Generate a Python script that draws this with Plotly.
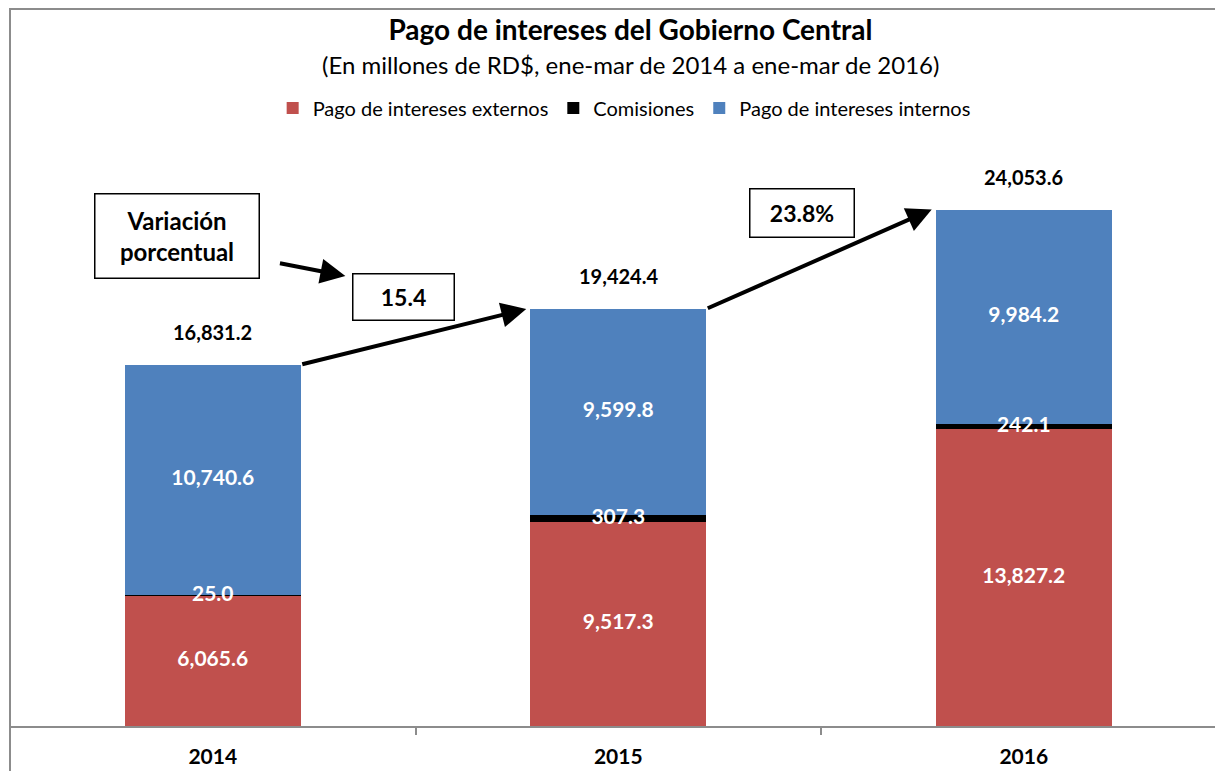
import plotly.graph_objects as go

years = ["2014", "2015", "2016"]
externos = [6065.6, 9517.3, 13827.2]
comisiones = [25.0, 307.3, 242.1]
internos = [10740.6, 9599.8, 9984.2]
totales = [16831.2, 19424.4, 24053.6]
variacion = ["15.4", "23.8%"]

FONT = "Lato"
RED = "#C0504D"
BLUE = "#4F81BD"
GRAY = "#8c8c8c"
BAR_W = 0.434


def fmt(v):
    return "{:,.1f}".format(v)


fig = go.Figure()

series = [
    ("Pago de intereses externos", externos, RED),
    ("Comisiones", comisiones, "black"),
    ("Pago de intereses internos", internos, BLUE),
]
for name, vals, color in series:
    fig.add_trace(go.Bar(
        x=years, y=vals, name=name,
        marker=dict(color=color, line=dict(width=0)),
        width=BAR_W,
        hoverinfo="skip",
    ))

# segment labels, white, centred on each segment
base = [0.0, 0.0, 0.0]
lab_x, lab_y, lab_t = [], [], []
for name, vals, color in series:
    for i, v in enumerate(vals):
        lab_x.append(years[i])
        lab_y.append(base[i] + v / 2)
        lab_t.append(fmt(v))
        base[i] += v

fig.add_trace(go.Scatter(
    x=lab_x, y=lab_y, text=lab_t, mode="text",
    textfont=dict(family=FONT, size=21, color="white", weight="bold"),
    showlegend=False, hoverinfo="skip",
))

annotations = []

# totals above the bars
for i, t in enumerate(totales):
    annotations.append(dict(
        x=i, y=t, xref="x", yref="y", text="<b>%s</b>" % fmt(t),
        showarrow=False, yanchor="bottom", yshift=19,
        font=dict(family=FONT, size=20, color="black"),
    ))

# arrows between the bar tops
for i in range(len(years) - 1):
    annotations.append(dict(
        x=i + 1 - BAR_W / 2 - 0.01, y=totales[i + 1],
        ax=i + BAR_W / 2, ay=totales[i],
        xref="x", yref="y", axref="x", ayref="y",
        text="", showarrow=True, arrowhead=2, arrowsize=1.25,
        arrowwidth=4, arrowcolor="black",
    ))

# variation boxes
box_pos = [(0.470, 19981, 92, 37), (1.452, 23894, 95, 39)]
for txt, (bx, by, bw, bh) in zip(variacion, box_pos):
    annotations.append(dict(
        x=bx, y=by, text="<b>%s</b>" % txt, showarrow=False,
        width=bw, height=bh, borderpad=4,
        bordercolor="black", borderwidth=1.5, bgcolor="white",
        font=dict(family=FONT, size=23, color="black"),
    ))

annotations.append(dict(
    x=-0.089, y=22822, text="<b>Variación<br>porcentual</b>", showarrow=False,
    width=155, height=75, borderpad=4,
    bordercolor="black", borderwidth=1.5, bgcolor="white",
    font=dict(family=FONT, size=24, color="black"),
))
annotations.append(dict(
    x=0.327, y=20960, ax=0.162, ay=21565,
    xref="x", yref="y", axref="x", ayref="y",
    text="", showarrow=True, arrowhead=2, arrowsize=1.25,
    arrowwidth=4, arrowcolor="black",
))

# subtitle
annotations.append(dict(
    xref="paper", yref="paper", x=0.508, y=1.091,
    text="(En millones de RD$, ene-mar de 2014 a ene-mar de 2016)",
    showarrow=False, yanchor="middle",
    font=dict(family=FONT, size=24, color="black"),
))

fig.update_layout(
    width=1223, height=771,
    margin=dict(l=2, r=0, t=112, b=53),
    paper_bgcolor="white", plot_bgcolor="white",
    barmode="stack",
    title=dict(
        text="<b>Pago de intereses del Gobierno Central</b>",
        x=0.509, xanchor="center", y=1 - 22 / 771, yanchor="middle",
        font=dict(family=FONT, size=28, color="black"),
    ),
    legend=dict(
        orientation="h", x=0.503, xanchor="center", y=1.02, yanchor="middle",
        font=dict(family=FONT, size=20, color="black"),
        itemwidth=30, traceorder="normal",
    ),
    xaxis=dict(
        type="category", range=[-0.5, 2.511],
        showline=True, linecolor=GRAY, linewidth=2,
        ticks="outside", tickson="boundaries", ticklen=7, tickcolor=GRAY,
        tickwidth=1.5,
        tickfont=dict(family=FONT, size=21, color="black", weight="bold"),
        ticklabelstandoff=11,
        showgrid=False, zeroline=False,
    ),
    yaxis=dict(visible=False, range=[0, 28225], showgrid=False),
    annotations=annotations,
    shapes=[dict(
        type="rect", xref="paper", yref="paper",
        x0=0, x1=1.2, y0=-0.3, y1=(718 - 1) / 606,
        line=dict(color=GRAY, width=2), layer="below",
    )],
    font=dict(family=FONT),
)

fig.write_html("out.html")
